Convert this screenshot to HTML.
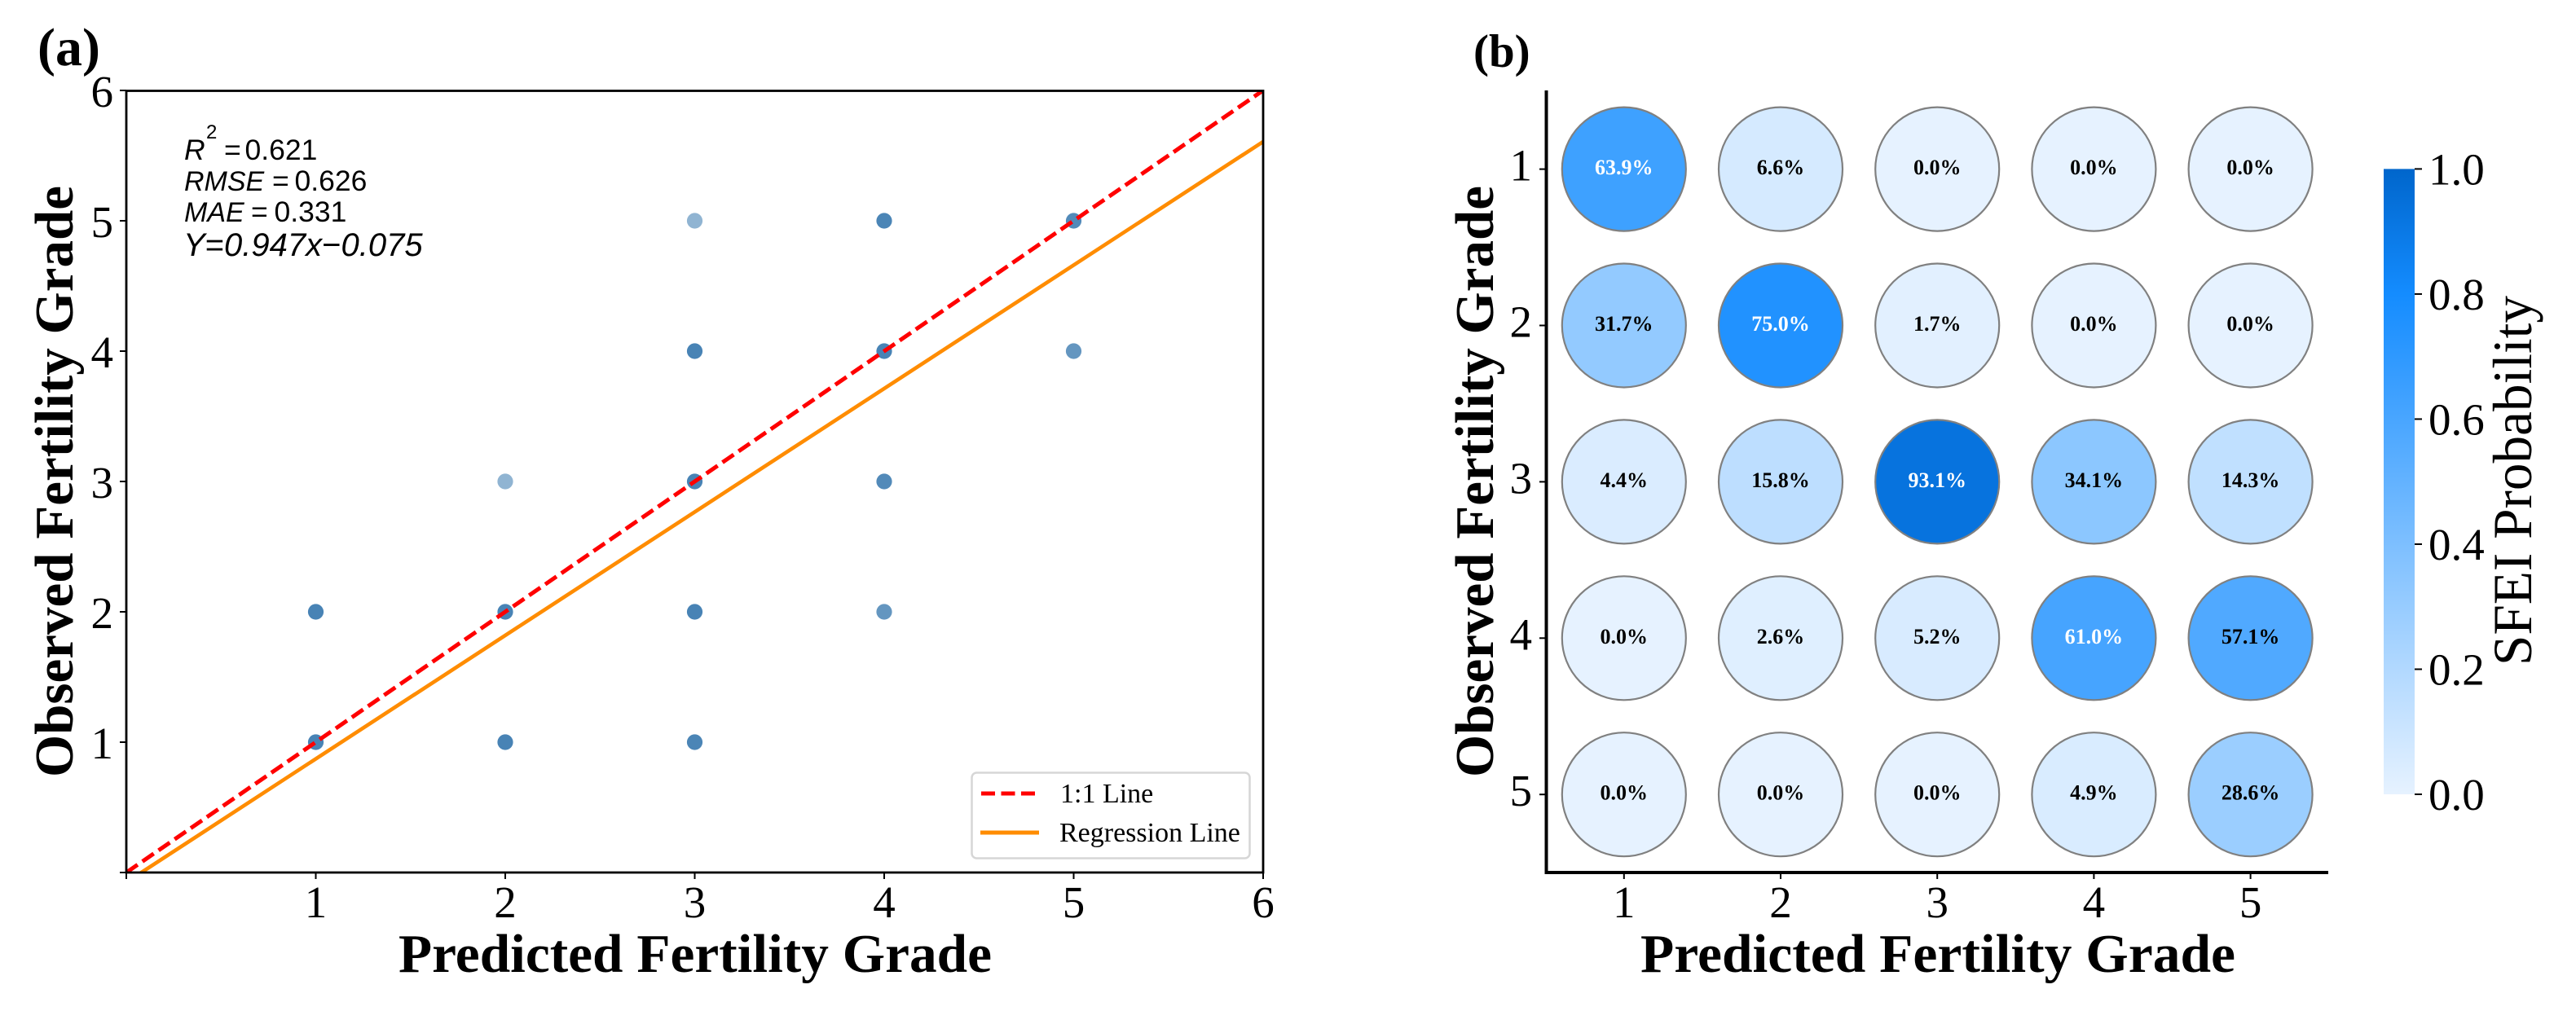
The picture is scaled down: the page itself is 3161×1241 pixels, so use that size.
<!DOCTYPE html>
<html lang="en">
<head>
<meta charset="utf-8">
<title>Observed vs Predicted Fertility Grade</title>
<style>
html,body{margin:0;padding:0;background:#fff;}
svg{display:block;}
text{font-family:"Liberation Serif",serif;fill:#000;}
.sans{font-family:"Liberation Sans",sans-serif;}
.tick{font-size:55px;}
.title{font-size:67px;font-weight:bold;}
</style>
</head>
<body>
<svg id="figure" xmlns="http://www.w3.org/2000/svg" width="3161" height="1241" viewBox="0 0 3161 1241">
  <defs>
    <clipPath id="clip-a"><rect x="155" y="111" width="1395" height="960"/></clipPath>
    <linearGradient id="cbar-gradient" x1="0" y1="1" x2="0" y2="0"></linearGradient>
  </defs>
  <rect x="0" y="0" width="3161" height="1241" fill="#fff"/>

  <!-- Panel (a) -->
  <g id="panel-a">
    <text x="46" y="80" font-size="66" font-weight="bold">(a)</text>
    <g id="a-marks" clip-path="url(#clip-a)"></g>
    <rect x="155" y="111.5" width="1395" height="959.5" fill="none" stroke="#000" stroke-width="2.8"/>
    <g id="a-ticks"></g>
    <text class="title" x="489" y="1193" textLength="728" lengthAdjust="spacingAndGlyphs">Predicted Fertility Grade</text>
    <text class="title" transform="translate(89 591) rotate(-90)" text-anchor="middle" textLength="726" lengthAdjust="spacingAndGlyphs">Observed Fertility Grade</text>

    <g>
      <text class="sans" y="196" font-size="35.5"><tspan x="226" font-style="italic">R</tspan><tspan x="253" y="170" font-size="24">2</tspan><tspan x="275" y="196">=</tspan><tspan x="300.5">0.621</tspan></text>
      <text class="sans" y="234" font-size="35.5"><tspan x="226" font-size="34" font-style="italic">RMSE</tspan><tspan x="334">=</tspan><tspan x="361.5">0.626</tspan></text>
      <text class="sans" y="272" font-size="35.5"><tspan x="226" font-size="34" font-style="italic">MAE</tspan><tspan x="308">=</tspan><tspan x="336.5">0.331</tspan></text>
      <text class="sans" x="225" y="314" font-size="40"><tspan font-style="italic">Y</tspan>=<tspan font-style="italic">0.947x</tspan>−<tspan font-style="italic">0.075</tspan></text>
    </g>

    <g>
      <rect x="1192.5" y="948.5" width="341" height="105" rx="6" ry="6" fill="#fff" stroke="#d6d6d6" stroke-width="2.5"/>
      <line x1="1204" y1="974" x2="1276" y2="974" stroke="#ff0000" stroke-width="5" stroke-dasharray="17 7.5"/>
      <text x="1301" y="985" font-size="34">1:1 Line</text>
      <line x1="1203" y1="1022" x2="1275" y2="1022" stroke="#ff8c00" stroke-width="5"/>
      <text x="1300" y="1033" font-size="34">Regression Line</text>
    </g>
  </g>

  <!-- Panel (b) -->
  <g id="panel-b">
    <text x="1808" y="82" font-size="57" font-weight="bold">(b)</text>
    <g id="b-cells"></g>
    <line x1="1897.5" y1="111" x2="1897.5" y2="1073" stroke="#000" stroke-width="4"/>
    <line x1="1895.5" y1="1071" x2="2857" y2="1071" stroke="#000" stroke-width="4"/>
    <g id="b-ticks"></g>
    <text class="title" x="2378" y="1193" text-anchor="middle" textLength="730" lengthAdjust="spacingAndGlyphs">Predicted Fertility Grade</text>
    <text class="title" transform="translate(1832 591) rotate(-90)" text-anchor="middle" textLength="726" lengthAdjust="spacingAndGlyphs">Observed Fertility Grade</text>

    <rect x="2925" y="207.4" width="38" height="767.6" fill="url(#cbar-gradient)"/>
    <g id="cbar-ticks"></g>
    <text transform="translate(3106 817) rotate(-90)" font-size="68" textLength="454" lengthAdjust="spacingAndGlyphs">SFEI Probability</text>
  </g>
</svg>

<script>
// ---- Panel (a) data ----
const predictedGrades = [1, 1, 2, 2, 2, 3, 3, 3, 3, 3, 4, 4, 4, 4, 5, 5];
const observedGrades  = [1, 2, 1, 2, 3, 1, 2, 3, 4, 5, 2, 3, 4, 5, 4, 5];
const sampleCounts    = [5, 5, 5, 5, 1, 4, 5, 5, 5, 1, 2, 3, 5, 4, 2, 3];
const scatterTicks = [0, 1, 2, 3, 4, 5, 6];
const scatterTickLabels = ['', '1', '2', '3', '4', '5', '6'];
const identityLine = [0, 6];
const regressionSlope = 0.947;
const regressionIntercept = -0.075;

// ---- Panel (b) data ----
const matrixGrades = [1, 2, 3, 4, 5];
const matrixRow1 = [63.9, 6.6, 0.0, 0.0, 0.0];
const matrixRow2 = [31.7, 75.0, 1.7, 0.0, 0.0];
const matrixRow3 = [4.4, 15.8, 93.1, 34.1, 14.3];
const matrixRow4 = [0.0, 2.6, 5.2, 61.0, 57.1];
const matrixRow5 = [0.0, 0.0, 0.0, 4.9, 28.6];
const matrixRows = [matrixRow1, matrixRow2, matrixRow3, matrixRow4, matrixRow5];
const colorbarTicks = [0.0, 0.2, 0.4, 0.6, 0.8, 1.0];
const colorStopValues = [0, 0.8, 1];
const colorStopColors = ['#e6f2ff', '#148cff', '#0066cc'];

// ---- Axis functions ----
function xA(v) { return 155 + 232.5 * v; }
function yA(v) { return 1071 - 160 * v; }
function xB(g) { return 1992.8 + 192.2 * (g - 1); }
function yB(g) { return 207.6 + 191.9 * (g - 1); }
function yC(v) { return 975 - 767.6 * v; }

const NS = 'http://www.w3.org/2000/svg';
function make(parent, tag, attrs, txt) {
  const e = document.createElementNS(NS, tag);
  for (const k in attrs) e.setAttribute(k, attrs[k]);
  if (txt !== undefined) e.textContent = txt;
  parent.appendChild(e);
  return e;
}
function hexToRgb(h) {
  return [parseInt(h.slice(1, 3), 16), parseInt(h.slice(3, 5), 16), parseInt(h.slice(5, 7), 16)];
}
function colorFor(v) {
  let i = 0;
  while (i < colorStopValues.length - 2 && v > colorStopValues[i + 1]) i++;
  const t = (v - colorStopValues[i]) / (colorStopValues[i + 1] - colorStopValues[i]);
  const a = hexToRgb(colorStopColors[i]);
  const b = hexToRgb(colorStopColors[i + 1]);
  const c = a.map((x, j) => Math.round(x + (b[j] - x) * t));
  return 'rgb(' + c.join(',') + ')';
}

// ---- Draw panel (a) ----
const aMarks = document.getElementById('a-marks');
predictedGrades.forEach((p, i) => {
  const dot = make(aMarks, 'circle', {
    cx: xA(p), cy: yA(observedGrades[i]), r: 9.6,
    fill: '#4682b4', 'fill-opacity': 1 - Math.pow(0.4, sampleCounts[i])
  });
  
  
});
const idLine = make(aMarks, 'line', {
  x1: xA(identityLine[0]), y1: yA(identityLine[0]), x2: xA(identityLine[1]), y2: yA(identityLine[1]),
  stroke: '#ff0000', 'stroke-width': 5, 'stroke-dasharray': '16.8 7.2'
});


const regLine = make(aMarks, 'line', {
  x1: xA(0), y1: yA(regressionIntercept), x2: xA(6), y2: yA(regressionSlope * 6 + regressionIntercept),
  stroke: '#ff8c00', 'stroke-width': 4.6
});



const aTicks = document.getElementById('a-ticks');
scatterTicks.forEach((t, i) => {
  const xt = make(aTicks, 'line', { x1: xA(t), y1: 1071, x2: xA(t), y2: 1079, stroke: '#000', 'stroke-width': 2 });
  
  
  const yt = make(aTicks, 'line', { x1: 155, y1: yA(t), x2: 147, y2: yA(t), stroke: '#000', 'stroke-width': 2 });
  
  
  if (scatterTickLabels[i]) {
    const xl = make(aTicks, 'text', { class: 'tick', x: xA(t), y: 1126, 'text-anchor': 'middle' }, scatterTickLabels[i]);
    
    
    const yl = make(aTicks, 'text', { class: 'tick', x: 139, y: yA(t) + 20, 'text-anchor': 'end' }, scatterTickLabels[i]);
    
    
  }
});

// ---- Draw panel (b) ----
const bCells = document.getElementById('b-cells');
matrixRows.forEach((row, r) => {
  row.forEach((pct, c) => {
    const cx = xB(matrixGrades[c]);
    const cy = yB(matrixGrades[r]);
    const cell = make(bCells, 'circle', {
      cx: cx, cy: cy, r: 76, fill: colorFor(pct / 100), stroke: '#808080', 'stroke-width': 2.2
    });
    
    
    const label = make(bCells, 'text', {
      x: cx, y: cy + 6.5, 'text-anchor': 'middle', 'font-size': 26, 'font-weight': 'bold',
      style: 'fill:' + (pct > 60 ? '#fff' : '#000')
    }, pct.toFixed(1) + '%');
    
    
  });
});

const bTicks = document.getElementById('b-ticks');
matrixGrades.forEach((g) => {
  const xt = make(bTicks, 'line', { x1: xB(g), y1: 1071, x2: xB(g), y2: 1079, stroke: '#000', 'stroke-width': 2 });
  
  
  const yt = make(bTicks, 'line', { x1: 1897, y1: yB(g), x2: 1889, y2: yB(g), stroke: '#000', 'stroke-width': 2 });
  
  
  const xl = make(bTicks, 'text', { class: 'tick', x: xB(g), y: 1126, 'text-anchor': 'middle' }, String(g));
  
  
  const yl = make(bTicks, 'text', { class: 'tick', x: 1880, y: yB(g) + 14, 'text-anchor': 'end' }, String(g));
  
  
});

// ---- Colorbar ----
const grad = document.getElementById('cbar-gradient');
colorStopValues.forEach((v, i) => {
  make(grad, 'stop', { offset: v, 'stop-color': colorStopColors[i] });
});
const cTicks = document.getElementById('cbar-ticks');
colorbarTicks.forEach((v) => {
  const t = make(cTicks, 'line', { x1: 2963, y1: yC(v), x2: 2972, y2: yC(v), stroke: '#000', 'stroke-width': 2 });
  
  
  const l = make(cTicks, 'text', { class: 'tick', x: 2980, y: yC(v) + 19 }, v.toFixed(1));
  
  
});
</script>
</body>
</html>
